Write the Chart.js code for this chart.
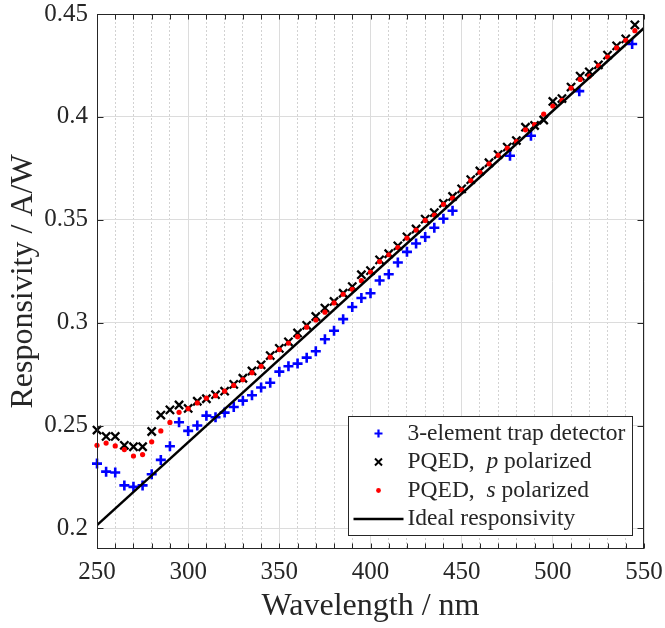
<!DOCTYPE html>
<html>
<head>
<meta charset="utf-8">
<script src="https://cdn.jsdelivr.net/npm/chart.js@4.4.1/dist/chart.umd.min.js"></script>
<style>
  html, body { margin: 0; padding: 0; background: #fff; }
</style>
</head>
<body>
<canvas id="chart" width="665" height="628"></canvas>
<script>
const FONT = "'Liberation Serif', 'Times New Roman', serif";
const TEXT = '#262626';

// PQED wavelengths (nm)
const wavelengths = [250, 255, 260, 265, 270, 275, 280, 285, 290, 295,
  300, 305, 310, 315, 320, 325, 330, 335, 340, 345,
  350, 355, 360, 365, 370, 375, 380, 385, 390, 395,
  400, 405, 410, 415, 420, 425, 430, 435, 440, 445,
  450, 455, 460, 465, 470, 475, 480, 485, 490, 495,
  500, 505, 510, 515, 520, 525, 530, 535, 540, 545];

// PQED, p polarized (A/W)
const pqedP = [0.2478, 0.2447, 0.2447, 0.2404, 0.2397, 0.2397, 0.2471, 0.2551, 0.2576, 0.2600,
  0.2583, 0.2618, 0.2630, 0.2650, 0.2667, 0.2700, 0.2730, 0.2765, 0.2795, 0.2840,
  0.2875, 0.2907, 0.2950, 0.2987, 0.3030, 0.3071, 0.3103, 0.3143, 0.3175, 0.3233,
  0.3253, 0.3305, 0.3335, 0.3373, 0.3417, 0.3455, 0.3503, 0.3535, 0.3580, 0.3613,
  0.3650, 0.3695, 0.3737, 0.3777, 0.3817, 0.3853, 0.3885, 0.3950, 0.3958, 0.3985,
  0.4075, 0.4089, 0.4145, 0.4198, 0.4219, 0.4253, 0.4300, 0.4345, 0.4379, 0.4447];

// PQED, s polarized (A/W)
const pqedS = [0.2404, 0.2415, 0.2401, 0.2383, 0.2352, 0.2359, 0.2421, 0.2474, 0.2515, 0.2564,
  0.2582, 0.2610, 0.2633, 0.2645, 0.2667, 0.2695, 0.2723, 0.2757, 0.2788, 0.2832,
  0.2869, 0.2901, 0.2932, 0.2978, 0.3013, 0.3051, 0.3096, 0.3138, 0.3162, 0.3204,
  0.3246, 0.3297, 0.3330, 0.3365, 0.3411, 0.3450, 0.3497, 0.3523, 0.3575, 0.3605,
  0.3645, 0.3690, 0.3731, 0.3772, 0.3813, 0.3848, 0.3880, 0.3937, 0.3963, 0.4013,
  0.4053, 0.4080, 0.4140, 0.4182, 0.4198, 0.4248, 0.4291, 0.4335, 0.4372, 0.4419];

// 3-element trap detector: scan 250-445 nm plus laser lines
const trapWavelengths = [250, 255, 260, 265, 270, 275, 280, 285, 290, 295,
  300, 305, 310, 315, 320, 325, 330, 335, 340, 345,
  350, 355, 360, 365, 370, 375, 380, 385, 390, 395,
  400, 405, 410, 415, 420, 425, 430, 435, 440, 445,
  476.5, 488, 514.5, 543.5];
const trapResp = [0.2315, 0.2276, 0.2272, 0.2209, 0.2202, 0.2209, 0.2263, 0.2333, 0.2399, 0.2516,
  0.2474, 0.2500, 0.2548, 0.2540, 0.2563, 0.2590, 0.2621, 0.2647, 0.2685, 0.2708,
  0.2762, 0.2788, 0.2801, 0.2830, 0.2861, 0.2919, 0.2961, 0.3017, 0.3076, 0.3120,
  0.3143, 0.3205, 0.3235, 0.3292, 0.3344, 0.3385, 0.3416, 0.3461, 0.3505, 0.3544,
  0.3811, 0.3908, 0.4125, 0.4354];

// ideal responsivity line end points
const idealWavelengths = [250, 550];
const idealResp = [0.2016, 0.4432];

// y axis tick values
const yTicks = [0.2, 0.25, 0.3, 0.35, 0.4, 0.45];

const toXY = (xs, ys) => xs.map((x, i) => ({ x: x, y: ys[i] }));

// box around the axes with inward tick marks
const framePlugin = {
  id: 'frame',
  afterDatasetsDraw(chart) {
    const { ctx, chartArea: a, scales } = chart;
    const l = Math.round(a.left) + 0.5, r = Math.round(a.right) - 0.5;
    const t = Math.round(a.top) + 0.5, b = Math.round(a.bottom) - 0.5;
    ctx.save();
    ctx.strokeStyle = TEXT;
    ctx.lineWidth = 1;
    ctx.strokeRect(l, t, r - l, b - t);
    ctx.beginPath();
    scales.x.ticks.forEach(function (tk) {
      const px = Math.round(scales.x.getPixelForValue(tk.value)) + 0.5;
      ctx.moveTo(px, b); ctx.lineTo(px, b - 5);
      ctx.moveTo(px, t); ctx.lineTo(px, t + 5);
    });
    scales.y.ticks.forEach(function (tk) {
      const py = Math.round(scales.y.getPixelForValue(tk.value)) + 0.5;
      ctx.moveTo(l, py); ctx.lineTo(l + 6, py);
      ctx.moveTo(r, py); ctx.lineTo(r - 6, py);
    });
    ctx.stroke();
    ctx.restore();
  }
};

// legend box in the lower right corner
const legendPlugin = {
  id: 'boxLegend',
  afterDraw(chart) {
    const { ctx, chartArea: a } = chart;
    const w = 284, h = 119;
    const x0 = Math.round(a.right - 12 - w) + 0.5;
    const y0 = Math.round(a.bottom - 14 - h) + 0.5;
    ctx.save();
    ctx.fillStyle = '#fff';
    ctx.fillRect(x0, y0, w, h);
    ctx.strokeStyle = TEXT;
    ctx.lineWidth = 1;
    ctx.strokeRect(x0, y0, w, h);

    const mx = x0 + 30, tx = x0 + 59;
    const rows = [y0 + 17, y0 + 45.5, y0 + 74, y0 + 102.5];
    const fs = '23.5px ' + FONT;
    ctx.font = fs;
    ctx.textBaseline = 'middle';

    // plus
    ctx.strokeStyle = '#0000ff'; ctx.lineWidth = 2.2;
    ctx.beginPath();
    ctx.moveTo(mx - 4, rows[0]); ctx.lineTo(mx + 4, rows[0]);
    ctx.moveTo(mx, rows[0] - 4); ctx.lineTo(mx, rows[0] + 4);
    ctx.stroke();

    // cross
    ctx.strokeStyle = '#000'; ctx.lineWidth = 2;
    ctx.beginPath();
    ctx.moveTo(mx - 3.5, rows[1] - 3.5); ctx.lineTo(mx + 3.5, rows[1] + 3.5);
    ctx.moveTo(mx - 3.5, rows[1] + 3.5); ctx.lineTo(mx + 3.5, rows[1] - 3.5);
    ctx.stroke();

    // dot
    ctx.fillStyle = '#ff0000';
    ctx.beginPath(); ctx.arc(mx, rows[2], 2.4, 0, Math.PI * 2); ctx.fill();

    // line
    ctx.strokeStyle = '#000'; ctx.lineWidth = 2.5;
    ctx.beginPath(); ctx.moveTo(x0 + 5, rows[3]); ctx.lineTo(x0 + 55, rows[3]); ctx.stroke();

    ctx.fillStyle = TEXT;
    ctx.fillText('3-element trap detector', tx, rows[0]);
    [['p', rows[1]], ['s', rows[2]]].forEach(function (item) {
      let x = tx;
      ctx.font = fs;
      ctx.fillText('PQED,  ', x, item[1]);
      x += ctx.measureText('PQED,  ').width;
      ctx.font = 'italic ' + fs;
      ctx.fillText(item[0], x, item[1]);
      x += ctx.measureText(item[0]).width;
      ctx.font = fs;
      ctx.fillText(' polarized', x, item[1]);
    });
    ctx.fillText('Ideal responsivity', tx, rows[3]);
    ctx.restore();
  }
};

new Chart(document.getElementById('chart'), {
  type: 'scatter',
  data: {
    datasets: [
      {
        label: '3-element trap detector',
        data: toXY(trapWavelengths, trapResp),
        pointStyle: 'cross',
        pointRadius: 5,
        borderWidth: 2.6,
        borderColor: '#0000ff',
        backgroundColor: '#0000ff',
        clip: false,
        order: 4
      },
      {
        label: 'PQED, p polarized',
        data: toXY(wavelengths, pqedP),
        pointStyle: 'crossRot',
        pointRadius: 5.8,
        borderWidth: 2.3,
        borderColor: '#000000',
        backgroundColor: '#000000',
        clip: false,
        order: 3
      },
      {
        label: 'PQED, s polarized',
        data: toXY(wavelengths, pqedS),
        pointStyle: 'circle',
        pointRadius: 2.6,
        borderWidth: 0,
        borderColor: '#ff0000',
        backgroundColor: '#ff0000',
        clip: false,
        order: 2
      },
      {
        label: 'Ideal responsivity',
        data: toXY(idealWavelengths, idealResp),
        showLine: true,
        pointRadius: 0,
        borderColor: '#000000',
        borderWidth: 2.5,
        order: 1
      }
    ]
  },
  options: {
    responsive: false,
    animation: false,
    layout: { padding: { left: 0, right: 21, top: 14, bottom: 0 } },
    plugins: {
      legend: { display: false },
      tooltip: { enabled: false }
    },
    scales: {
      x: {
        type: 'linear',
        position: 'bottom',
        min: 250,
        max: 550,
        ticks: {
          stepSize: 10,
          autoSkip: false,
          maxRotation: 0,
          padding: 8,
          color: TEXT,
          font: { family: FONT, size: 25 },
          callback: v => (v % 50 === 0 ? v : '')
        },
        // minor grid: dotted, every 10 nm
        grid: {
          drawTicks: false,
          color: c => (c.tick && c.tick.value % 50 === 0 ? 'rgba(0,0,0,0)' : '#d2d2d2')
        },
        border: { display: false, dash: [2, 2] },
        title: {
          display: true,
          text: 'Wavelength / nm',
          color: TEXT,
          font: { family: FONT, size: 32 },
          padding: { top: 0, bottom: 2 }
        },
        afterFit: s => { s.height = 79; s.paddingLeft = 0; s.paddingRight = 0; }
      },
      xMajor: {
        type: 'linear',
        position: 'bottom',
        min: 250,
        max: 550,
        ticks: { display: false, stepSize: 50 },
        grid: { drawTicks: false, color: '#dcdcdc' },
        border: { display: false },
        afterFit: s => { s.height = 0; s.paddingLeft = 0; s.paddingRight = 0; }
      },
      y: {
        min: 0.19,
        max: 0.45,
        afterBuildTicks: s => { s.ticks = yTicks.map(v => ({ value: v })); },
        ticks: {
          padding: 9,
          color: TEXT,
          font: { family: FONT, size: 25 },
          callback: v => String(+v.toFixed(2))
        },
        grid: { drawTicks: false, color: '#dcdcdc' },
        border: { display: false },
        title: {
          display: true,
          text: 'Responsivity / A/W',
          color: TEXT,
          font: { family: FONT, size: 32 },
          padding: { top: 4, bottom: 0 }
        },
        afterFit: s => { s.width = 97; s.paddingTop = 0; s.paddingBottom = 0; }
      }
    }
  },
  plugins: [framePlugin, legendPlugin]
});
</script>
</body>
</html>
